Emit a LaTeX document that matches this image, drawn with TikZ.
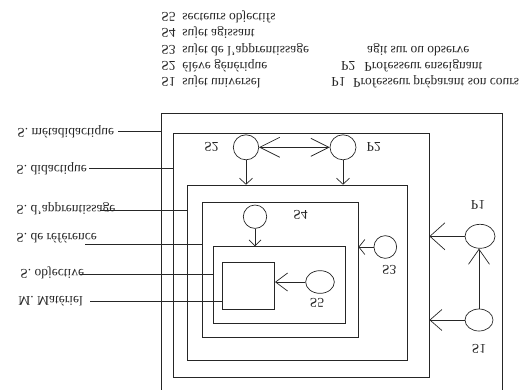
\documentclass[tikz,border=0pt]{standalone}
\usepackage{graphicx}
\usepackage{fontspec}
\setmainfont{Liberation Serif}
\usetikzlibrary{positioning,shapes.geometric,arrows.meta}
\newcommand{\flipped}[1]{\scalebox{1}[-1]{#1}}
\tikzset{
  box/.style={draw, rectangle, inner sep=0pt, anchor=north west},
  circ/.style={draw, ellipse, inner sep=0pt},
  txt/.style={inner sep=0pt, font=\fontsize{13.5}{15}\selectfont},
  barb/.style 2 args={-{Straight Barb[length=#1, width=#2]}}
}
\begin{document}
\begin{tikzpicture}[x=1pt, y=-1pt, line width=0.7pt, color=black!85]
	\useasboundingbox (0,0) rectangle (526,389);
	\clip (0,0) rectangle (526,389);
	% legend
	\foreach \k/\t/\y in {S5/secteurs objectifs/17, S4/sujet agissant/33, S3/sujet de l'apprentissage/49.5, S2/élève générique/65.5, S1/sujet universel/82}{
		\node[txt, anchor=west] (key\k) at (161,\y) {\flipped{\k}};
		\node[txt, anchor=west] (def\k) at (182,\y) {\flipped{\t}};
	}
	\node[txt, anchor=west] (agit) at (366.7,49.5) {\flipped{agit sur ou observe}};
	\node[txt, anchor=west] (keyP2) at (340.7,65.5) {\flipped{P2}};
	\node[txt, anchor=west] (defP2) at (364,65.5) {\flipped{Professeur enseignant}};
	\node[txt, anchor=west] (keyP1) at (331,82) {\flipped{P1}};
	\node[txt, anchor=west] (defP1) at (352.7,82) {\flipped{Professeur préparant son cours}};
	% nested systems
	\node[box, minimum width=341pt, minimum height=300pt] (meta) at (161,113) {};
	\node[box, minimum width=256pt, minimum height=244pt] (didact) at (172.7,132.7) {};
	\node[box, minimum width=220.6pt, minimum height=175.3pt] (appr) at (186.7,184.7) {};
	\node[box, minimum width=155.7pt, minimum height=135.6pt] (ref) at (202,201.7) {};
	\node[box, minimum width=132pt, minimum height=77pt] (obj) at (213.3,246.3) {};
	\node[box, minimum width=52pt, minimum height=47.6pt] (mat) at (222.3,261.7) {};
	% left names
	\node[txt, anchor=west] (lmeta) at (17,131.7) {\flipped{S. métadidactique}};
	\node[txt, anchor=west] (ldidact) at (16,168.3) {\flipped{S. didactique}};
	\node[txt, anchor=west] (lappr) at (16,209) {\flipped{S. d'apprentissage}};
	\node[txt, anchor=west] (lref) at (16,237.7) {\flipped{S. de référence}};
	\node[txt, anchor=west] (lobj) at (20,272.3) {\flipped{S. objective}};
	\node[txt, anchor=west] (lmat) at (18,300.7) {\flipped{M. Matériel}};
	\foreach \c/\x/\y in {meta/118/131.7, didact/89/168, appr/100/210.5, ref/85/244.5, obj/80/274, mat/90/301.7}{
		\coordinate (e\c) at (\x,\y);
		\draw (e\c) -- (e\c -| \c.west);
	}
	% subjects
	\node[circ, minimum width=25.4pt, minimum height=25pt] (s2) at (246,147.3) {};
	\node[circ, minimum width=26pt, minimum height=25pt] (p2) at (343,147.3) {};
	\node[circ, minimum width=23.4pt, minimum height=23.4pt] (s4) at (255,216.7) {};
	\node[circ, minimum width=22.7pt, minimum height=22.7pt] (s3) at (385.3,247) {};
	\node[circ, minimum width=28.7pt, minimum height=22.7pt] (s5) at (320,282) {};
	\node[circ, minimum width=30pt, minimum height=24pt] (p1) at (480,236.3) {};
	\node[circ, minimum width=28pt, minimum height=22pt] (s1) at (479,320) {};
	\node[txt, left=14pt of s2] (ls2) {\flipped{S2}};
	\node[txt, right=10pt of p2] (lp2) {\flipped{P2}};
	\node[txt, right=26pt of s4, yshift=1.7pt] (ls4) {\flipped{S4}};
	\node[txt, below=6.5pt of s3, xshift=4pt] (ls3) {\flipped{S3}};
	\node[txt, below=4.5pt of s5, xshift=-3pt] (ls5) {\flipped{S5}};
	\node[txt, above=14.5pt of p1, xshift=-2pt] (lp1) {\flipped{P1}};
	\node[txt, below=12.3pt of s1] (ls1) {\flipped{S1}};
	% actions
	\draw[{Straight Barb[length=20pt, width=20pt]}-{Straight Barb[length=18pt, width=18pt]}] (s2) -- (p2);
	\draw[barb={6pt}{13pt}] (s2.south) -- (s2.south |- appr.north);
	\draw[barb={6pt}{13pt}] (p2.south) -- (p2.south |- appr.north);
	\draw[barb={6pt}{12pt}] (s4.south) -- (s4.south |- obj.north);
	\draw[barb={6pt}{15pt}] (s3.west) -- (s3.west -| ref.east);
	\draw[barb={12pt}{18pt}] (s5.west) -- (s5.west -| mat.east);
	\draw[barb={15pt}{27pt}] (p1.west) -- (p1.west -| didact.east);
	\draw[barb={12pt}{21pt}] (s1.west) -- (s1.west -| didact.east);
	\draw[barb={15pt}{21pt}] (s1.north) -- (s1.north |- p1.south);
\end{tikzpicture}
\end{document}
